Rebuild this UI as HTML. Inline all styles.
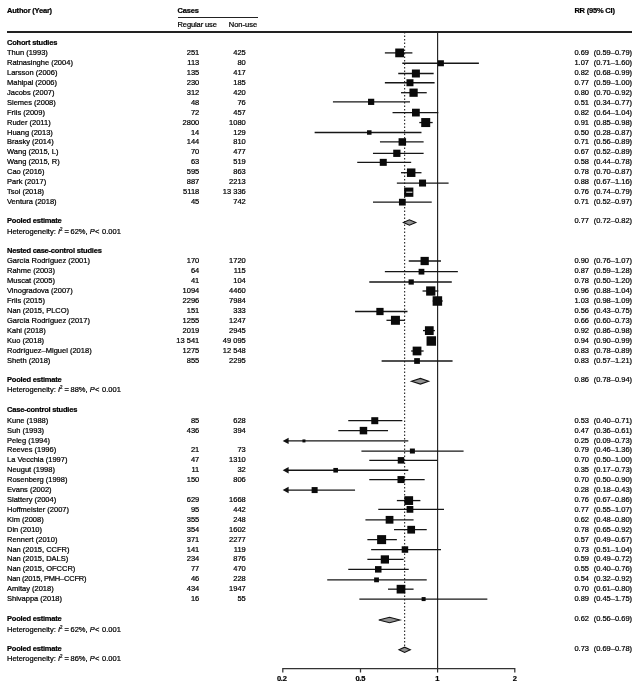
<!DOCTYPE html>
<html><head><meta charset="utf-8"><title>Forest plot</title>
<style>
html,body{margin:0;padding:0;background:#fff}
#p{position:relative;width:640px;height:690px;overflow:hidden;background:#fff;font-family:"Liberation Sans",sans-serif;font-size:7.5px;line-height:10px;color:#000;-webkit-text-stroke:0.22px #000}
.t{position:absolute;white-space:nowrap;height:10px}
.b{font-weight:bold;letter-spacing:-0.2px}
.r{text-align:right}
.c{text-align:center}
.rule{position:absolute;height:1.2px;background:#222}
span.m{margin:0 1.6px 0 2px}span.m2{margin:0 2.6px 0 0.4px}
sup{font-size:4.5px;line-height:0;vertical-align:3px}
svg{position:absolute;left:0;top:0}
.ci{stroke:#161616;stroke-width:1.3}
</style></head><body><div id="p">
<svg width="640" height="690" viewBox="0 0 640 690">
<line x1="437.6" y1="32" x2="437.6" y2="672.5" stroke="#222" stroke-width="1.15"/>
<line x1="404.6" y1="32" x2="404.6" y2="647" stroke="#333" stroke-width="1.2" stroke-dasharray="1.5 2.0"/>
<line x1="384.87" y1="52.90" x2="412.39" y2="52.90" class="ci"/>
<rect x="395.23" y="48.52" width="8.75" height="8.75" fill="#0a0a0a"/>
<line x1="402.32" y1="63.25" x2="478.89" y2="63.25" class="ci"/>
<rect x="437.90" y="60.25" width="6" height="6" fill="#0a0a0a"/>
<line x1="398.25" y1="73.50" x2="433.65" y2="73.50" class="ci"/>
<rect x="411.90" y="69.50" width="8" height="8" fill="#0a0a0a"/>
<line x1="384.87" y1="82.75" x2="434.60" y2="82.75" class="ci"/>
<rect x="406.47" y="79.25" width="7" height="7" fill="#0a0a0a"/>
<line x1="400.99" y1="92.70" x2="426.74" y2="92.70" class="ci"/>
<rect x="409.45" y="88.57" width="8.25" height="8.25" fill="#0a0a0a"/>
<line x1="332.93" y1="101.85" x2="409.97" y2="101.85" class="ci"/>
<rect x="368.04" y="98.75" width="6.2" height="6.2" fill="#0a0a0a"/>
<line x1="392.54" y1="112.60" x2="438.30" y2="112.60" class="ci"/>
<rect x="412.02" y="108.72" width="7.75" height="7.75" fill="#0a0a0a"/>
<line x1="419.28" y1="122.55" x2="432.70" y2="122.55" class="ci"/>
<rect x="421.21" y="118.05" width="9" height="9" fill="#0a0a0a"/>
<line x1="314.63" y1="132.50" x2="421.48" y2="132.50" class="ci"/>
<rect x="367.03" y="130.25" width="4.5" height="4.5" fill="#0a0a0a"/>
<line x1="379.96" y1="141.95" x2="423.62" y2="141.95" class="ci"/>
<rect x="398.57" y="138.20" width="7.5" height="7.5" fill="#0a0a0a"/>
<line x1="372.97" y1="153.30" x2="423.62" y2="153.30" class="ci"/>
<rect x="393.23" y="149.68" width="7.25" height="7.25" fill="#0a0a0a"/>
<line x1="357.23" y1="162.35" x2="411.18" y2="162.35" class="ci"/>
<rect x="379.76" y="158.85" width="7" height="7" fill="#0a0a0a"/>
<line x1="400.99" y1="172.70" x2="421.48" y2="172.70" class="ci"/>
<rect x="406.93" y="168.45" width="8.5" height="8.5" fill="#0a0a0a"/>
<line x1="396.86" y1="183.05" x2="448.59" y2="183.05" class="ci"/>
<rect x="419.05" y="179.55" width="7" height="7" fill="#0a0a0a"/>
<line x1="406.22" y1="192.20" x2="412.39" y2="192.20" class="ci"/>
<rect x="404.11" y="187.57" width="9.25" height="9.25" fill="#0a0a0a"/>
<line x1="406.22" y1="192.20" x2="412.39" y2="192.20" stroke="#fff" stroke-width="1"/>
<line x1="372.97" y1="202.15" x2="431.73" y2="202.15" class="ci"/>
<rect x="398.95" y="198.78" width="6.75" height="6.75" fill="#0a0a0a"/>
<polygon points="403.40,222.50 409.40,219.80 415.80,222.50 409.40,225.20" fill="#919191" stroke="#111" stroke-width="1.1"/>
<line x1="408.74" y1="261.00" x2="440.98" y2="261.00" class="ci"/>
<rect x="420.55" y="256.88" width="8.25" height="8.25" fill="#0a0a0a"/>
<line x1="384.87" y1="271.70" x2="457.86" y2="271.70" class="ci"/>
<rect x="418.60" y="268.82" width="5.75" height="5.75" fill="#0a0a0a"/>
<line x1="369.28" y1="282.00" x2="451.78" y2="282.00" class="ci"/>
<rect x="408.56" y="279.38" width="5.25" height="5.25" fill="#0a0a0a"/>
<line x1="422.55" y1="291.00" x2="438.30" y2="291.00" class="ci"/>
<rect x="426.13" y="286.38" width="9.25" height="9.25" fill="#0a0a0a"/>
<line x1="432.70" y1="301.00" x2="442.72" y2="301.00" class="ci"/>
<rect x="432.64" y="296.25" width="9.5" height="9.5" fill="#0a0a0a"/>
<line x1="355.06" y1="311.50" x2="407.49" y2="311.50" class="ci"/>
<rect x="376.33" y="307.88" width="7.25" height="7.25" fill="#0a0a0a"/>
<line x1="386.46" y1="320.30" x2="404.94" y2="320.30" class="ci"/>
<rect x="390.94" y="315.80" width="9" height="9" fill="#0a0a0a"/>
<line x1="423.00" y1="330.60" x2="434.90" y2="330.60" class="ci"/>
<rect x="424.93" y="326.23" width="8.75" height="8.75" fill="#0a0a0a"/>
<line x1="427.00" y1="341.00" x2="436.00" y2="341.00" class="ci"/>
<rect x="426.55" y="336.25" width="9.5" height="9.5" fill="#0a0a0a"/>
<line x1="411.18" y1="351.00" x2="423.62" y2="351.00" class="ci"/>
<rect x="412.66" y="346.62" width="8.75" height="8.75" fill="#0a0a0a"/>
<line x1="381.62" y1="361.00" x2="452.56" y2="361.00" class="ci"/>
<rect x="414.16" y="358.12" width="5.75" height="5.75" fill="#0a0a0a"/>
<polygon points="411.50,381.25 420.39,378.45 428.60,381.25 420.39,384.05" fill="#919191" stroke="#111" stroke-width="1.1"/>
<line x1="348.25" y1="420.70" x2="402.32" y2="420.70" class="ci"/>
<rect x="371.27" y="417.20" width="7" height="7" fill="#0a0a0a"/>
<line x1="338.32" y1="430.61" x2="388.02" y2="430.61" class="ci"/>
<rect x="359.70" y="426.86" width="7.5" height="7.5" fill="#0a0a0a"/>
<line x1="285.70" y1="440.92" x2="408.30" y2="440.92" class="ci"/>
<polygon points="282.70,440.92 288.60,437.72 288.60,444.12" fill="#111"/>
<rect x="302.45" y="439.42" width="3" height="3" fill="#0a0a0a"/>
<line x1="361.42" y1="451.03" x2="463.58" y2="451.03" class="ci"/>
<rect x="409.89" y="448.53" width="5" height="5" fill="#0a0a0a"/>
<line x1="369.28" y1="460.34" x2="437.30" y2="460.34" class="ci"/>
<rect x="397.74" y="457.09" width="6.5" height="6.5" fill="#0a0a0a"/>
<line x1="285.70" y1="470.25" x2="408.30" y2="470.25" class="ci"/>
<polygon points="282.70,470.25 288.60,467.05 288.60,473.45" fill="#111"/>
<rect x="333.36" y="467.95" width="4.6" height="4.6" fill="#0a0a0a"/>
<line x1="369.28" y1="479.56" x2="424.67" y2="479.56" class="ci"/>
<rect x="397.49" y="476.06" width="7" height="7" fill="#0a0a0a"/>
<line x1="285.70" y1="490.07" x2="355.06" y2="490.07" class="ci"/>
<polygon points="282.70,490.07 288.60,486.87 288.60,493.27" fill="#111"/>
<rect x="311.63" y="487.07" width="6" height="6" fill="#0a0a0a"/>
<line x1="396.86" y1="500.58" x2="420.39" y2="500.58" class="ci"/>
<rect x="404.36" y="496.21" width="8.75" height="8.75" fill="#0a0a0a"/>
<line x1="378.26" y1="509.39" x2="444.00" y2="509.39" class="ci"/>
<rect x="406.59" y="506.01" width="6.75" height="6.75" fill="#0a0a0a"/>
<line x1="365.43" y1="519.80" x2="413.57" y2="519.80" class="ci"/>
<rect x="385.67" y="515.92" width="7.75" height="7.75" fill="#0a0a0a"/>
<line x1="394.00" y1="529.71" x2="426.74" y2="529.71" class="ci"/>
<rect x="407.31" y="525.84" width="7.75" height="7.75" fill="#0a0a0a"/>
<line x1="367.37" y1="539.62" x2="396.86" y2="539.62" class="ci"/>
<rect x="377.12" y="535.12" width="9" height="9" fill="#0a0a0a"/>
<line x1="371.14" y1="549.53" x2="441.00" y2="549.53" class="ci"/>
<rect x="401.69" y="546.28" width="6.5" height="6.5" fill="#0a0a0a"/>
<line x1="367.37" y1="559.44" x2="403.64" y2="559.44" class="ci"/>
<rect x="380.75" y="555.32" width="8.25" height="8.25" fill="#0a0a0a"/>
<line x1="348.25" y1="569.35" x2="408.74" y2="569.35" class="ci"/>
<rect x="375.01" y="566.10" width="6.5" height="6.5" fill="#0a0a0a"/>
<line x1="327.22" y1="579.86" x2="426.74" y2="579.86" class="ci"/>
<rect x="374.13" y="577.46" width="4.8" height="4.8" fill="#0a0a0a"/>
<line x1="388.02" y1="589.17" x2="413.57" y2="589.17" class="ci"/>
<rect x="396.64" y="584.82" width="8.7" height="8.7" fill="#0a0a0a"/>
<line x1="359.35" y1="599.08" x2="487.34" y2="599.08" class="ci"/>
<rect x="421.62" y="597.08" width="4" height="4" fill="#0a0a0a"/>
<polygon points="378.80,620.00 389.55,617.25 399.90,620.00 389.55,622.75" fill="#919191" stroke="#111" stroke-width="1.1"/>
<polygon points="399.00,649.80 404.60,647.20 410.30,649.80 404.60,652.40" fill="#919191" stroke="#111" stroke-width="1.1"/>
<path d="M282.8 672.5V668.7H514.8V672.5M360.5 668.7V672.5" fill="none" stroke="#333" stroke-width="1.25"/>
</svg>
<div class="t b" style="left:7px;top:5.50px">Author (Year)</div>
<div class="t b" style="left:177.5px;top:5.50px">Cases</div>
<div class="t b" style="left:574.4px;top:5.50px">RR (95% CI)</div>
<div class="t " style="left:177.5px;top:20.20px"><span style="letter-spacing:-0.1px">Regular use</span></div>
<div class="t " style="left:228.75px;top:20.20px">Non-use</div>
<div class="rule" style="left:177.5px;top:17px;width:80px"></div>
<div class="rule" style="left:7px;top:31.45px;width:624.6px"></div>
<div class="t b" style="left:7px;top:37.50px">Cohort studies</div>
<div class="t " style="left:7px;top:47.90px">Thun (1993)</div>
<div class="t r " style="right:440.75px;top:47.90px">251</div>
<div class="t r " style="right:394.25px;top:47.90px">425</div>
<div class="t " style="left:574.4px;top:47.90px">0.69</div>
<div class="t " style="left:593.7px;top:47.90px">(0.59–0.79)</div>
<div class="t " style="left:7px;top:57.85px">Ratnasinghe (2004)</div>
<div class="t r " style="right:440.75px;top:57.85px">113</div>
<div class="t r " style="right:394.25px;top:57.85px">80</div>
<div class="t " style="left:574.4px;top:57.85px">1.07</div>
<div class="t " style="left:593.7px;top:57.85px">(0.71–1.60)</div>
<div class="t " style="left:7px;top:67.80px">Larsson (2006)</div>
<div class="t r " style="right:440.75px;top:67.80px">135</div>
<div class="t r " style="right:394.25px;top:67.80px">417</div>
<div class="t " style="left:574.4px;top:67.80px">0.82</div>
<div class="t " style="left:593.7px;top:67.80px">(0.68–0.99)</div>
<div class="t " style="left:7px;top:77.75px">Mahipal (2006)</div>
<div class="t r " style="right:440.75px;top:77.75px">230</div>
<div class="t r " style="right:394.25px;top:77.75px">185</div>
<div class="t " style="left:574.4px;top:77.75px">0.77</div>
<div class="t " style="left:593.7px;top:77.75px">(0.59–1.00)</div>
<div class="t " style="left:7px;top:87.70px">Jacobs (2007)</div>
<div class="t r " style="right:440.75px;top:87.70px">312</div>
<div class="t r " style="right:394.25px;top:87.70px">420</div>
<div class="t " style="left:574.4px;top:87.70px">0.80</div>
<div class="t " style="left:593.7px;top:87.70px">(0.70–0.92)</div>
<div class="t " style="left:7px;top:97.65px">Siemes (2008)</div>
<div class="t r " style="right:440.75px;top:97.65px">48</div>
<div class="t r " style="right:394.25px;top:97.65px">76</div>
<div class="t " style="left:574.4px;top:97.65px">0.51</div>
<div class="t " style="left:593.7px;top:97.65px">(0.34–0.77)</div>
<div class="t " style="left:7px;top:107.60px">Friis (2009)</div>
<div class="t r " style="right:440.75px;top:107.60px">72</div>
<div class="t r " style="right:394.25px;top:107.60px">457</div>
<div class="t " style="left:574.4px;top:107.60px">0.82</div>
<div class="t " style="left:593.7px;top:107.60px">(0.64–1.04)</div>
<div class="t " style="left:7px;top:117.55px">Ruder (2011)</div>
<div class="t r " style="right:440.75px;top:117.55px">2800</div>
<div class="t r " style="right:394.25px;top:117.55px">1080</div>
<div class="t " style="left:574.4px;top:117.55px">0.91</div>
<div class="t " style="left:593.7px;top:117.55px">(0.85–0.98)</div>
<div class="t " style="left:7px;top:127.50px">Huang (2013)</div>
<div class="t r " style="right:440.75px;top:127.50px">14</div>
<div class="t r " style="right:394.25px;top:127.50px">129</div>
<div class="t " style="left:574.4px;top:127.50px">0.50</div>
<div class="t " style="left:593.7px;top:127.50px">(0.28–0.87)</div>
<div class="t " style="left:7px;top:137.45px">Brasky (2014)</div>
<div class="t r " style="right:440.75px;top:137.45px">144</div>
<div class="t r " style="right:394.25px;top:137.45px">810</div>
<div class="t " style="left:574.4px;top:137.45px">0.71</div>
<div class="t " style="left:593.7px;top:137.45px">(0.56–0.89)</div>
<div class="t " style="left:7px;top:147.40px">Wang (2015, L)</div>
<div class="t r " style="right:440.75px;top:147.40px">70</div>
<div class="t r " style="right:394.25px;top:147.40px">477</div>
<div class="t " style="left:574.4px;top:147.40px">0.67</div>
<div class="t " style="left:593.7px;top:147.40px">(0.52–0.89)</div>
<div class="t " style="left:7px;top:157.35px">Wang (2015, R)</div>
<div class="t r " style="right:440.75px;top:157.35px">63</div>
<div class="t r " style="right:394.25px;top:157.35px">519</div>
<div class="t " style="left:574.4px;top:157.35px">0.58</div>
<div class="t " style="left:593.7px;top:157.35px">(0.44–0.78)</div>
<div class="t " style="left:7px;top:167.30px">Cao (2016)</div>
<div class="t r " style="right:440.75px;top:167.30px">595</div>
<div class="t r " style="right:394.25px;top:167.30px">863</div>
<div class="t " style="left:574.4px;top:167.30px">0.78</div>
<div class="t " style="left:593.7px;top:167.30px">(0.70–0.87)</div>
<div class="t " style="left:7px;top:177.25px">Park (2017)</div>
<div class="t r " style="right:440.75px;top:177.25px">887</div>
<div class="t r " style="right:394.25px;top:177.25px">2213</div>
<div class="t " style="left:574.4px;top:177.25px">0.88</div>
<div class="t " style="left:593.7px;top:177.25px">(0.67–1.16)</div>
<div class="t " style="left:7px;top:187.20px">Tsoi (2018)</div>
<div class="t r " style="right:440.75px;top:187.20px">5118</div>
<div class="t r " style="right:394.25px;top:187.20px">13 336</div>
<div class="t " style="left:574.4px;top:187.20px">0.76</div>
<div class="t " style="left:593.7px;top:187.20px">(0.74–0.79)</div>
<div class="t " style="left:7px;top:197.15px">Ventura (2018)</div>
<div class="t r " style="right:440.75px;top:197.15px">45</div>
<div class="t r " style="right:394.25px;top:197.15px">742</div>
<div class="t " style="left:574.4px;top:197.15px">0.71</div>
<div class="t " style="left:593.7px;top:197.15px">(0.52–0.97)</div>
<div class="t b" style="left:7px;top:216.30px">Pooled estimate</div>
<div class="t " style="left:574.4px;top:216.30px">0.77</div>
<div class="t " style="left:593.7px;top:216.30px">(0.72–0.82)</div>
<div class="t " style="left:7px;top:226.70px">Heterogeneity: <i>I</i><sup>2</sup><span class="m">=</span>62%, <i>P</i><span class="m2">&lt;</span>0.001</div>
<div class="t b" style="left:7px;top:246.00px">Nested case-control studies</div>
<div class="t " style="left:7px;top:256.00px">García Rodríguez (2001)</div>
<div class="t r " style="right:440.75px;top:256.00px">170</div>
<div class="t r " style="right:394.25px;top:256.00px">1720</div>
<div class="t " style="left:574.4px;top:256.00px">0.90</div>
<div class="t " style="left:593.7px;top:256.00px">(0.76–1.07)</div>
<div class="t " style="left:7px;top:266.00px">Rahme (2003)</div>
<div class="t r " style="right:440.75px;top:266.00px">64</div>
<div class="t r " style="right:394.25px;top:266.00px">115</div>
<div class="t " style="left:574.4px;top:266.00px">0.87</div>
<div class="t " style="left:593.7px;top:266.00px">(0.59–1.28)</div>
<div class="t " style="left:7px;top:276.00px">Muscat (2005)</div>
<div class="t r " style="right:440.75px;top:276.00px">41</div>
<div class="t r " style="right:394.25px;top:276.00px">104</div>
<div class="t " style="left:574.4px;top:276.00px">0.78</div>
<div class="t " style="left:593.7px;top:276.00px">(0.50–1.20)</div>
<div class="t " style="left:7px;top:286.00px">Vinogradova (2007)</div>
<div class="t r " style="right:440.75px;top:286.00px">1094</div>
<div class="t r " style="right:394.25px;top:286.00px">4460</div>
<div class="t " style="left:574.4px;top:286.00px">0.96</div>
<div class="t " style="left:593.7px;top:286.00px">(0.88–1.04)</div>
<div class="t " style="left:7px;top:296.00px">Friis (2015)</div>
<div class="t r " style="right:440.75px;top:296.00px">2296</div>
<div class="t r " style="right:394.25px;top:296.00px">7984</div>
<div class="t " style="left:574.4px;top:296.00px">1.03</div>
<div class="t " style="left:593.7px;top:296.00px">(0.98–1.09)</div>
<div class="t " style="left:7px;top:306.00px">Nan (2015, PLCO)</div>
<div class="t r " style="right:440.75px;top:306.00px">151</div>
<div class="t r " style="right:394.25px;top:306.00px">333</div>
<div class="t " style="left:574.4px;top:306.00px">0.56</div>
<div class="t " style="left:593.7px;top:306.00px">(0.43–0.75)</div>
<div class="t " style="left:7px;top:316.00px">García Rodríguez (2017)</div>
<div class="t r " style="right:440.75px;top:316.00px">1255</div>
<div class="t r " style="right:394.25px;top:316.00px">1247</div>
<div class="t " style="left:574.4px;top:316.00px">0.66</div>
<div class="t " style="left:593.7px;top:316.00px">(0.60–0.73)</div>
<div class="t " style="left:7px;top:326.00px">Kahi (2018)</div>
<div class="t r " style="right:440.75px;top:326.00px">2019</div>
<div class="t r " style="right:394.25px;top:326.00px">2945</div>
<div class="t " style="left:574.4px;top:326.00px">0.92</div>
<div class="t " style="left:593.7px;top:326.00px">(0.86–0.98)</div>
<div class="t " style="left:7px;top:336.00px">Kuo (2018)</div>
<div class="t r " style="right:440.75px;top:336.00px">13 541</div>
<div class="t r " style="right:394.25px;top:336.00px">49 095</div>
<div class="t " style="left:574.4px;top:336.00px">0.94</div>
<div class="t " style="left:593.7px;top:336.00px">(0.90–0.99)</div>
<div class="t " style="left:7px;top:346.00px">Rodríguez–Miguel (2018)</div>
<div class="t r " style="right:440.75px;top:346.00px">1275</div>
<div class="t r " style="right:394.25px;top:346.00px">12 548</div>
<div class="t " style="left:574.4px;top:346.00px">0.83</div>
<div class="t " style="left:593.7px;top:346.00px">(0.78–0.89)</div>
<div class="t " style="left:7px;top:356.00px">Sheth (2018)</div>
<div class="t r " style="right:440.75px;top:356.00px">855</div>
<div class="t r " style="right:394.25px;top:356.00px">2295</div>
<div class="t " style="left:574.4px;top:356.00px">0.83</div>
<div class="t " style="left:593.7px;top:356.00px">(0.57–1.21)</div>
<div class="t b" style="left:7px;top:375.00px">Pooled estimate</div>
<div class="t " style="left:574.4px;top:375.20px">0.86</div>
<div class="t " style="left:593.7px;top:375.20px">(0.78–0.94)</div>
<div class="t " style="left:7px;top:385.00px">Heterogeneity: <i>I</i><sup>2</sup><span class="m">=</span>88%, <i>P</i><span class="m2">&lt;</span>0.001</div>
<div class="t b" style="left:7px;top:405.00px">Case-control studies</div>
<div class="t " style="left:7px;top:415.70px">Kune (1988)</div>
<div class="t r " style="right:440.75px;top:415.70px">85</div>
<div class="t r " style="right:394.25px;top:415.70px">628</div>
<div class="t " style="left:574.4px;top:415.70px">0.53</div>
<div class="t " style="left:593.7px;top:415.70px">(0.40–0.71)</div>
<div class="t " style="left:7px;top:425.61px">Suh (1993)</div>
<div class="t r " style="right:440.75px;top:425.61px">436</div>
<div class="t r " style="right:394.25px;top:425.61px">394</div>
<div class="t " style="left:574.4px;top:425.61px">0.47</div>
<div class="t " style="left:593.7px;top:425.61px">(0.36–0.61)</div>
<div class="t " style="left:7px;top:435.52px">Peleg (1994)</div>
<div class="t " style="left:574.4px;top:435.52px">0.25</div>
<div class="t " style="left:593.7px;top:435.52px">(0.09–0.73)</div>
<div class="t " style="left:7px;top:445.43px">Reeves (1996)</div>
<div class="t r " style="right:440.75px;top:445.43px">21</div>
<div class="t r " style="right:394.25px;top:445.43px">73</div>
<div class="t " style="left:574.4px;top:445.43px">0.79</div>
<div class="t " style="left:593.7px;top:445.43px">(0.46–1.36)</div>
<div class="t " style="left:7px;top:455.34px">La Vecchia (1997)</div>
<div class="t r " style="right:440.75px;top:455.34px">47</div>
<div class="t r " style="right:394.25px;top:455.34px">1310</div>
<div class="t " style="left:574.4px;top:455.34px">0.70</div>
<div class="t " style="left:593.7px;top:455.34px">(0.50–1.00)</div>
<div class="t " style="left:7px;top:465.25px">Neugut (1998)</div>
<div class="t r " style="right:440.75px;top:465.25px">11</div>
<div class="t r " style="right:394.25px;top:465.25px">32</div>
<div class="t " style="left:574.4px;top:465.25px">0.35</div>
<div class="t " style="left:593.7px;top:465.25px">(0.17–0.73)</div>
<div class="t " style="left:7px;top:475.16px">Rosenberg (1998)</div>
<div class="t r " style="right:440.75px;top:475.16px">150</div>
<div class="t r " style="right:394.25px;top:475.16px">806</div>
<div class="t " style="left:574.4px;top:475.16px">0.70</div>
<div class="t " style="left:593.7px;top:475.16px">(0.50–0.90)</div>
<div class="t " style="left:7px;top:485.07px">Evans (2002)</div>
<div class="t " style="left:574.4px;top:485.07px">0.28</div>
<div class="t " style="left:593.7px;top:485.07px">(0.18–0.43)</div>
<div class="t " style="left:7px;top:494.98px">Slattery (2004)</div>
<div class="t r " style="right:440.75px;top:494.98px">629</div>
<div class="t r " style="right:394.25px;top:494.98px">1668</div>
<div class="t " style="left:574.4px;top:494.98px">0.76</div>
<div class="t " style="left:593.7px;top:494.98px">(0.67–0.86)</div>
<div class="t " style="left:7px;top:504.89px">Hoffmeister (2007)</div>
<div class="t r " style="right:440.75px;top:504.89px">95</div>
<div class="t r " style="right:394.25px;top:504.89px">442</div>
<div class="t " style="left:574.4px;top:504.89px">0.77</div>
<div class="t " style="left:593.7px;top:504.89px">(0.55–1.07)</div>
<div class="t " style="left:7px;top:514.80px">Kim (2008)</div>
<div class="t r " style="right:440.75px;top:514.80px">355</div>
<div class="t r " style="right:394.25px;top:514.80px">248</div>
<div class="t " style="left:574.4px;top:514.80px">0.62</div>
<div class="t " style="left:593.7px;top:514.80px">(0.48–0.80)</div>
<div class="t " style="left:7px;top:524.71px">Din (2010)</div>
<div class="t r " style="right:440.75px;top:524.71px">354</div>
<div class="t r " style="right:394.25px;top:524.71px">1602</div>
<div class="t " style="left:574.4px;top:524.71px">0.78</div>
<div class="t " style="left:593.7px;top:524.71px">(0.65–0.92)</div>
<div class="t " style="left:7px;top:534.62px">Rennert (2010)</div>
<div class="t r " style="right:440.75px;top:534.62px">371</div>
<div class="t r " style="right:394.25px;top:534.62px">2277</div>
<div class="t " style="left:574.4px;top:534.62px">0.57</div>
<div class="t " style="left:593.7px;top:534.62px">(0.49–0.67)</div>
<div class="t " style="left:7px;top:544.53px">Nan (2015, CCFR)</div>
<div class="t r " style="right:440.75px;top:544.53px">141</div>
<div class="t r " style="right:394.25px;top:544.53px">119</div>
<div class="t " style="left:574.4px;top:544.53px">0.73</div>
<div class="t " style="left:593.7px;top:544.53px">(0.51–1.04)</div>
<div class="t " style="left:7px;top:554.44px">Nan (2015, DALS)</div>
<div class="t r " style="right:440.75px;top:554.44px">234</div>
<div class="t r " style="right:394.25px;top:554.44px">876</div>
<div class="t " style="left:574.4px;top:554.44px">0.59</div>
<div class="t " style="left:593.7px;top:554.44px">(0.49–0.72)</div>
<div class="t " style="left:7px;top:564.35px">Nan (2015, OFCCR)</div>
<div class="t r " style="right:440.75px;top:564.35px">77</div>
<div class="t r " style="right:394.25px;top:564.35px">470</div>
<div class="t " style="left:574.4px;top:564.35px">0.55</div>
<div class="t " style="left:593.7px;top:564.35px">(0.40–0.76)</div>
<div class="t " style="left:7px;top:574.26px"><span style="letter-spacing:-0.2px">Nan (2015, PMH–CCFR)</span></div>
<div class="t r " style="right:440.75px;top:574.26px">46</div>
<div class="t r " style="right:394.25px;top:574.26px">228</div>
<div class="t " style="left:574.4px;top:574.26px">0.54</div>
<div class="t " style="left:593.7px;top:574.26px">(0.32–0.92)</div>
<div class="t " style="left:7px;top:584.17px">Amitay (2018)</div>
<div class="t r " style="right:440.75px;top:584.17px">434</div>
<div class="t r " style="right:394.25px;top:584.17px">1947</div>
<div class="t " style="left:574.4px;top:584.17px">0.70</div>
<div class="t " style="left:593.7px;top:584.17px">(0.61–0.80)</div>
<div class="t " style="left:7px;top:594.08px">Shivappa (2018)</div>
<div class="t r " style="right:440.75px;top:594.08px">16</div>
<div class="t r " style="right:394.25px;top:594.08px">55</div>
<div class="t " style="left:574.4px;top:594.08px">0.89</div>
<div class="t " style="left:593.7px;top:594.08px">(0.45–1.75)</div>
<div class="t b" style="left:7px;top:613.90px">Pooled estimate</div>
<div class="t " style="left:574.4px;top:613.80px">0.62</div>
<div class="t " style="left:593.7px;top:613.80px">(0.56–0.69)</div>
<div class="t " style="left:7px;top:624.50px">Heterogeneity: <i>I</i><sup>2</sup><span class="m">=</span>62%, <i>P</i><span class="m2">&lt;</span>0.001</div>
<div class="t b" style="left:7px;top:643.60px">Pooled estimate</div>
<div class="t " style="left:574.4px;top:643.50px">0.73</div>
<div class="t " style="left:593.7px;top:643.50px">(0.69–0.78)</div>
<div class="t " style="left:7px;top:654.10px">Heterogeneity: <i>I</i><sup>2</sup><span class="m">=</span>86%, <i>P</i><span class="m2">&lt;</span>0.001</div>
<div class="t b c" style="left:266.8px;width:30px;top:673.90px">0.2</div>
<div class="t b c" style="left:345.3px;width:30px;top:673.90px">0.5</div>
<div class="t b c" style="left:422.3px;width:30px;top:673.90px">1</div>
<div class="t b c" style="left:499.79999999999995px;width:30px;top:673.90px">2</div>
</div></body></html>
